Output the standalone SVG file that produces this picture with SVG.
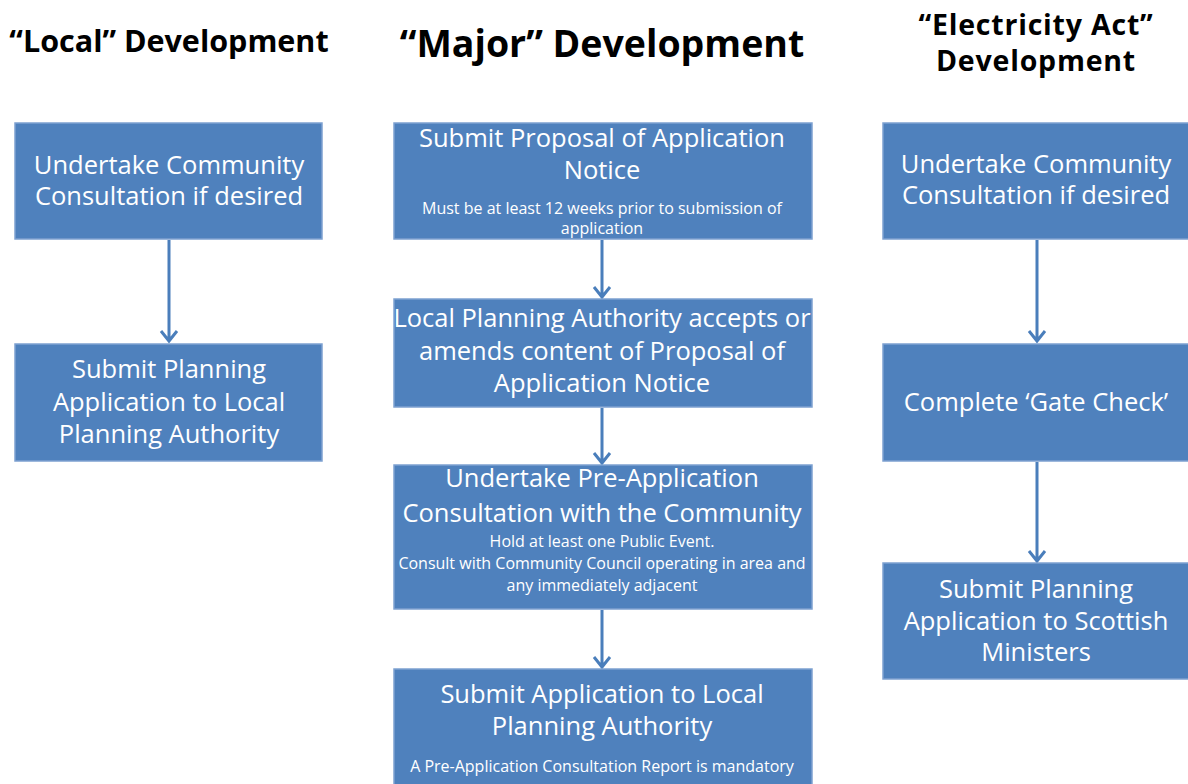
<svg xmlns="http://www.w3.org/2000/svg" width="1188" height="784" viewBox="0 0 1188 784">
  <style>
    .box { fill: #4F81BD; stroke: #7EA1D1; stroke-width: 1.5; }
    .head { font-family: "Open Sans", "Liberation Sans", sans-serif; font-weight: bold; fill: #000; text-anchor: middle; }
    .lbl { font-family: "Open Sans", "Liberation Sans", sans-serif; font-size: 25.5px; fill: #fff; text-anchor: middle; }
    .note { font-family: "Open Sans", "Liberation Sans", sans-serif; font-size: 16px; fill: #fff; text-anchor: middle; }
    .conn { fill: none; stroke: #4A7EBB; stroke-width: 3; }
  </style>
  <rect width="1188" height="784" fill="#fff"/>

  <!-- column headings -->
  <g id="headings">
    <text class="head" x="169" y="52" font-size="30.5">“Local” Development</text>
    <text class="head" x="602" y="57" font-size="37.5">“Major” Development</text>
    <text class="head" x="1036" y="35" font-size="28.5" letter-spacing="0.8">“Electricity Act”</text>
    <text class="head" x="1036" y="71" font-size="28.5" letter-spacing="0.8">Development</text>
  </g>

  <!-- connectors -->
  <g id="connectors">
    <path class="conn" d="M169 240 V340 M161 331 L169 341 L177 331"/>
    <path class="conn" d="M602 240 V296 M594 287 L602 297 L610 287"/>
    <path class="conn" d="M602 408 V462 M594 453 L602 463 L610 453"/>
    <path class="conn" d="M602 610 V666 M594 657 L602 667 L610 657"/>
    <path class="conn" d="M1037 240 V340 M1029 331 L1037 341 L1045 331"/>
    <path class="conn" d="M1037 462 V560 M1029 551 L1037 561 L1045 551"/>
  </g>

  <!-- Local development -->
  <g id="local-consult">
    <rect class="box" x="15" y="123" width="307" height="116"/>
    <text class="lbl" x="169" y="174">Undertake Community</text>
    <text class="lbl" x="169" y="205">Consultation if desired</text>
  </g>
  <g id="local-submit">
    <rect class="box" x="15" y="344" width="307" height="117"/>
    <text class="lbl" x="169" y="378">Submit Planning</text>
    <text class="lbl" x="169" y="411">Application to Local</text>
    <text class="lbl" x="169" y="443">Planning Authority</text>
  </g>

  <!-- Major development -->
  <g id="major-pan">
    <rect class="box" x="394" y="123" width="418" height="116"/>
    <text class="lbl" x="602" y="147">Submit Proposal of Application</text>
    <text class="lbl" x="602" y="179">Notice</text>
    <text class="note" x="602" y="214">Must be at least 12 weeks prior to submission of</text>
    <text class="note" x="602" y="234">application</text>
  </g>
  <g id="major-lpa">
    <rect class="box" x="394" y="299" width="418" height="108"/>
    <text class="lbl" x="602" y="327">Local Planning Authority accepts or</text>
    <text class="lbl" x="602" y="360">amends content of Proposal of</text>
    <text class="lbl" x="602" y="392">Application Notice</text>
  </g>
  <g id="major-consult">
    <rect class="box" x="394" y="465" width="418" height="144"/>
    <text class="lbl" x="602" y="487">Undertake Pre-Application</text>
    <text class="lbl" x="602" y="522">Consultation with the Community</text>
    <text class="note" x="602" y="547">Hold at least one Public Event.</text>
    <text class="note" x="602" y="569">Consult with Community Council operating in area and</text>
    <text class="note" x="602" y="591">any immediately adjacent</text>
  </g>
  <g id="major-submit">
    <rect class="box" x="394" y="669" width="418" height="118"/>
    <text class="lbl" x="602" y="703">Submit Application to Local</text>
    <text class="lbl" x="602" y="735">Planning Authority</text>
    <text class="note" x="602" y="772">A Pre-Application Consultation Report is mandatory</text>
  </g>

  <!-- Electricity Act development -->
  <g id="ea-consult">
    <rect class="box" x="883" y="123" width="310" height="116"/>
    <text class="lbl" x="1036" y="173">Undertake Community</text>
    <text class="lbl" x="1036" y="204">Consultation if desired</text>
  </g>
  <g id="ea-gate">
    <rect class="box" x="883" y="344" width="310" height="117"/>
    <text class="lbl" x="1036" y="411">Complete ‘Gate Check’</text>
  </g>
  <g id="ea-submit">
    <rect class="box" x="883" y="563" width="310" height="116"/>
    <text class="lbl" x="1036" y="598">Submit Planning</text>
    <text class="lbl" x="1036" y="630">Application to Scottish</text>
    <text class="lbl" x="1036" y="661">Ministers</text>
  </g>
</svg>
